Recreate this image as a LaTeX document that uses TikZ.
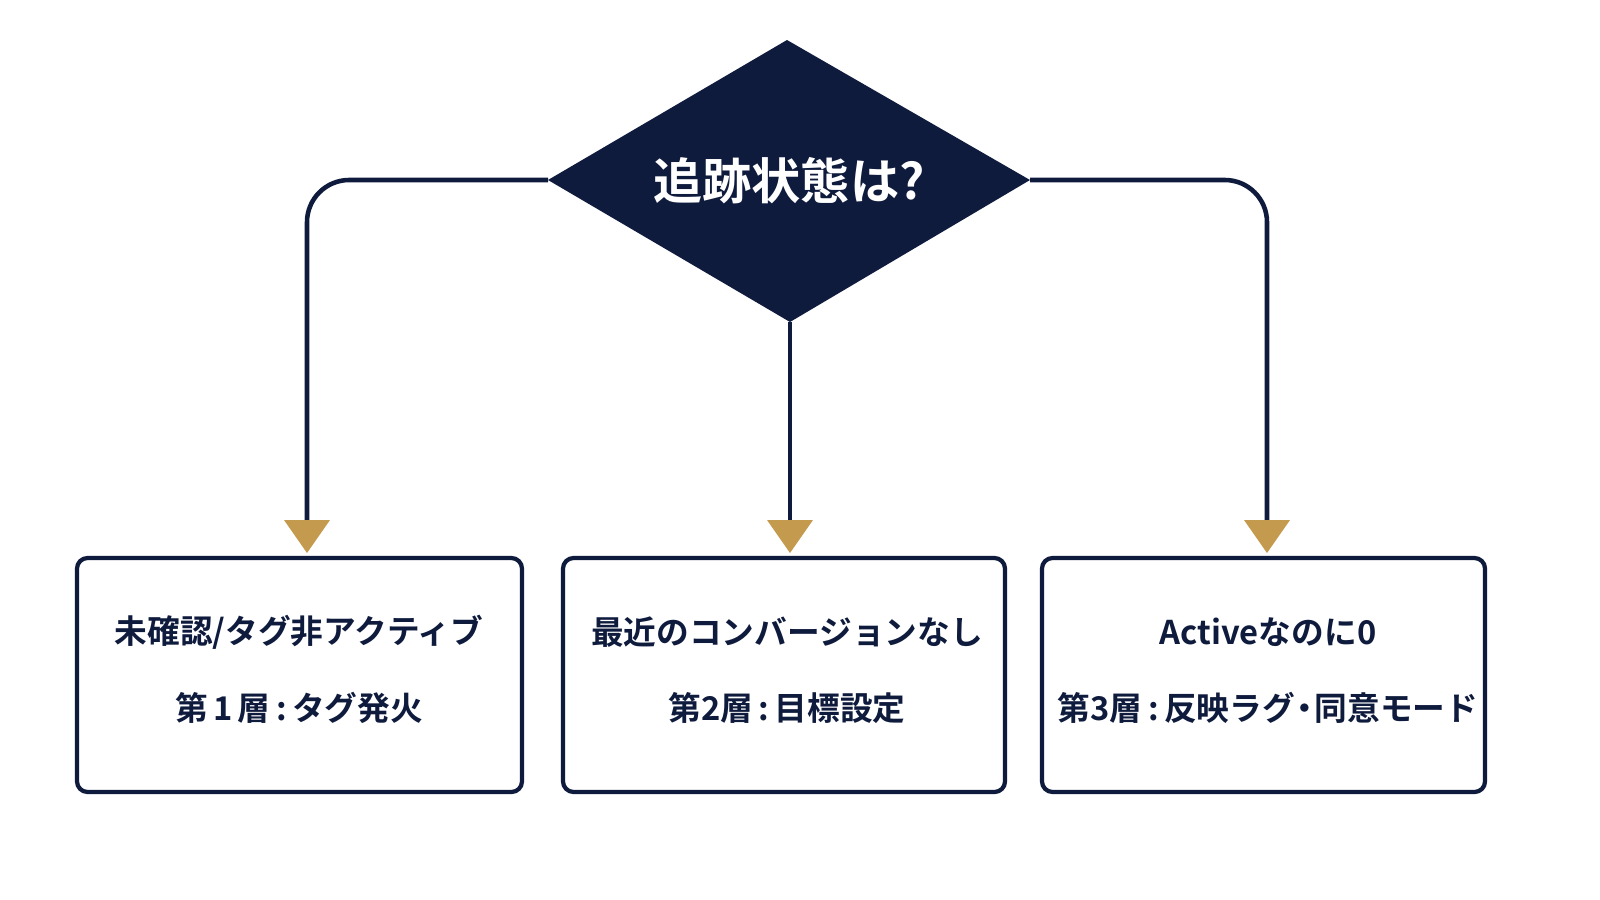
\documentclass[tikz,border=0pt]{standalone}
\usepackage{fontspec}
\setmainfont{Noto Sans CJK JP}[BoldFont={Noto Sans CJK JP Bold}]
\definecolor{navy}{HTML}{0F1B3D}
\definecolor{gold}{HTML}{C49A4E}
\begin{document}
\begin{tikzpicture}[x=0.01cm,y=-0.01cm,
  lbl/.style={text=navy,font=\bfseries\fontsize{9.3}{11}\selectfont},
  con/.style={draw=navy,line width=1.3pt,rounded corners=12pt}]
\fill[navy] (787,40) coordinate (dt) -- (1030,180) coordinate (dr) -- (790,322) coordinate (db) -- (548,180) coordinate (dl) -- cycle;
\node[text=white,font=\bfseries\fontsize{14}{16}\selectfont] (d) at (789,181) {追跡状態は?};
\foreach \a/\b in {77/522,563/1005,1042/1485}{
  \draw[navy,line width=1.2pt,rounded corners=3pt] (\a,558) rectangle (\b,792);
}
\node[lbl] (t1) at (299,632) {未確認/タグ非アクティブ};
\node[lbl] (s1) at (299,708) {第\,1\,層\,:\,タグ発火};
\node[lbl] (t2) at (787,632) {最近のコンバージョンなし};
\node[lbl] (s2) at (787,708) {第2層\,:\,目標設定};
\node[lbl] (t3) at (1268,632) {Activeなのに0};
\node[lbl] (s3) at (1268,708) {第3層\,:\,反映ラグ\kern-0.2em・\kern-0.2em同意モード};
\coordinate (a1) at (307,522);
\coordinate (a2) at (790,522);
\coordinate (a3) at (1267,522);
\draw[con] (dl) -- (307,180) -- (a1);
\draw[con] (db) -- (a2);
\draw[con] (dr) -- (1267,180) -- (a3);
\foreach \x in {307,790,1267}{
  \fill[gold] (\x-23,520) -- (\x+23,520) -- (\x,553) -- cycle;
}
\pgfresetboundingbox
\useasboundingbox (0,0) rectangle (1600,900);
\end{tikzpicture}
\end{document}
